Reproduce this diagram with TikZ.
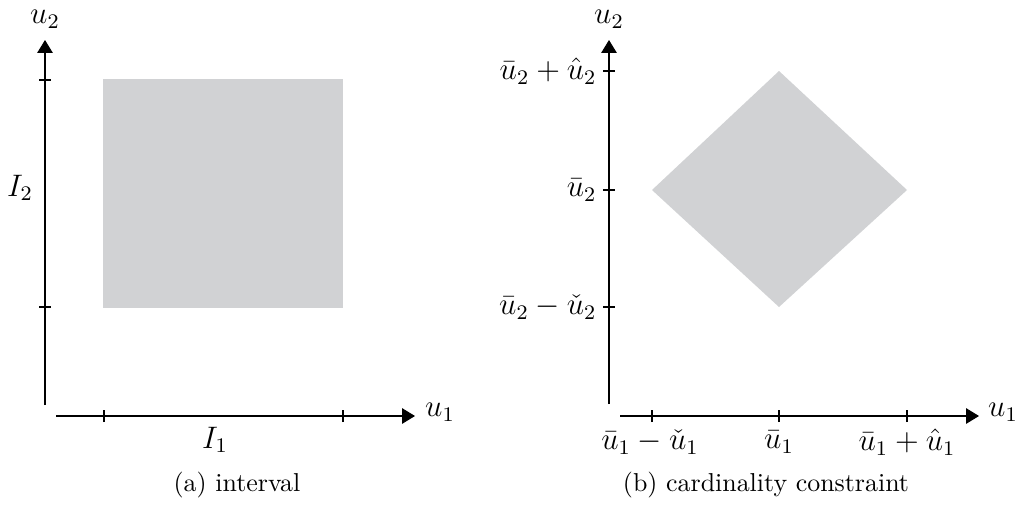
\documentclass[tikz,border=0pt]{standalone}
\usepackage{amsmath}
\usetikzlibrary{arrows.meta,positioning}

\definecolor{regiongray}{RGB}{209,210,212}

\begin{document}
\begin{tikzpicture}[x=0.01357cm, y=0.01357cm, every node/.style={font=\large},
  axis/.style={-{Triangle[length=5pt,width=6pt]}},
  axistick/.style={line width=0.4pt},
  caption/.style={font=\normalsize}]

\useasboundingbox (0,0) rectangle (1019,511);

% =========================
% INTERVAL
% =========================
\begin{scope}[shift={(45,95)}]

% Region
\fill[regiongray] (58,108) rectangle (298,337);

% Axes
\coordinate (v1s) at (0,11);
\coordinate (v1e) at (0,376);
\coordinate (h1s) at (11,0);
\coordinate (h1e) at (370,0);
\draw[axis] (v1s) -- (v1e);
\draw[axis] (h1s) -- (h1e);

% Ticks
\draw[axistick] (-6,336) -- (6,336);
\draw[axistick] (-6,109) -- (6,109);
\draw[axistick] (59,-6) -- (59,6);
\draw[axistick] (298,-6) -- (298,6);

% Labels
\node (u2a) at (0,397) {$u_2$};
\node (u1a) at (395,4) {$u_1$};
\node (i2) at (-25,228) {$I_2$};
\node (i1) at (170,-24) {$I_1$};

% Caption
\node[caption] (capa) at (192,-69) {(a) interval};

\end{scope}

% =========================
% CARDINALITY CONSTRAINT
% =========================
\begin{scope}[shift={(609,95)}]

% Region
\fill[regiongray] (170,345) -- (298,226) -- (170,109) -- (43,226) -- cycle;

% Axes
\coordinate (v2s) at (0,12);
\coordinate (v2e) at (0,376);
\coordinate (h2s) at (11,0);
\coordinate (h2e) at (370,0);
\draw[axis] (v2s) -- (v2e);
\draw[axis] (h2s) -- (h2e);

% Ticks
\foreach \y in {109,226,345}
  \draw[axistick] (-6,\y) -- (6,\y);
\foreach \x in {43,170,298}
  \draw[axistick] (\x,-6) -- (\x,6);

% Labels
\node (u2b) at (0,397) {$u_2$};
\node (u1b) at (394,4) {$u_1$};
\node[anchor=east, inner sep=0pt] (uptwo) at (-12,345) {$\bar{u}_2 + \hat{u}_2$};
\node[anchor=east, inner sep=0pt] (midtwo) at (-12,226) {$\bar{u}_2$};
\node[anchor=east, inner sep=0pt] (lowtwo) at (-12,109) {$\bar{u}_2 - \check{u}_2$};
\node (lowone) at (41,-26) {$\bar{u}_1 - \check{u}_1$};
\node (midone) at (170,-26) {$\bar{u}_1$};
\node (upone) at (298,-26) {$\bar{u}_1 + \hat{u}_1$};

% Caption
\node[caption] (capb) at (157,-69) {(b) cardinality constraint};

\end{scope}

\end{tikzpicture}
\end{document}
